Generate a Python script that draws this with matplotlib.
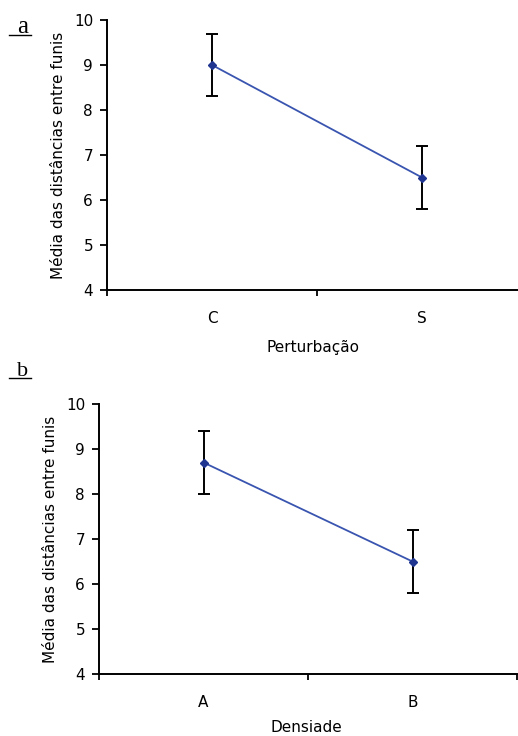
import matplotlib.pyplot as plt
from matplotlib.lines import Line2D

# dados
cat_a = ['C', 'S']
media_a = [9.0, 6.5]
erro_a = [0.7, 0.71]

cat_b = ['A', 'B']
media_b = [8.7, 6.5]
erro_b = [0.7, 0.71]

ylabel = 'Média das distâncias entre funis'
W, H = 518, 736

fig = plt.figure(figsize=(W / 100, H / 100), dpi=100)
plt.rcParams['font.family'] = ['DejaVu Sans']
fs = 11


def painel(rect, cats, medias, erros):
    ax = fig.add_axes(rect)
    xs = [0.5, 1.5]
    ax.errorbar(xs, medias, yerr=erros, fmt='none', ecolor='black',
                elinewidth=1.4, capsize=4, capthick=1.4, zorder=2)
    ax.plot(xs, medias, color='#3a55b0', lw=1.3, marker='D', ms=4,
            mfc='#1f3590', mec='#1f3590', zorder=3)
    ax.set_xlim(0, 2)
    ax.set_ylim(4, 10)
    ax.set_yticks(range(4, 11))
    ax.set_xticks([0, 1, 2])
    ax.set_xticklabels([])
    ax.set_xticks(xs, minor=True)
    ax.set_xticklabels(cats, minor=True)
    ax.tick_params(axis='x', which='minor', length=0, pad=15, labelsize=fs)
    ax.tick_params(axis='x', which='major', length=4, width=1.3)
    ax.tick_params(axis='y', length=5, width=1.3, labelsize=fs, pad=5)
    for s in ['top', 'right']:
        ax.spines[s].set_visible(False)
    for s in ['left', 'bottom']:
        ax.spines[s].set_linewidth(1.4)
    ax.set_ylabel(ylabel, fontsize=fs, labelpad=6)
    return ax


ax_a = painel([107 / W, 1 - 290 / H, 420 / W, 270 / H], cat_a, media_a, erro_a)
ax_b = painel([99 / W, 1 - 674 / H, 418 / W, 270 / H], cat_b, media_b, erro_b)

# rótulos dos eixos x (posição manual, como no original)
fig.text(313 / W, 1 - 347 / H, 'Perturbação', ha='center', va='center', fontsize=fs)
fig.text(306 / W, 1 - 727 / H, 'Densiade', ha='center', va='center', fontsize=fs)

# letras dos painéis, sublinhadas
for lbl, y, tam in [('a', 33, 18), ('b', 376, 16)]:
    fig.text(23 / W, 1 - y / H, lbl, family='Liberation Serif', fontsize=tam,
             ha='center', va='baseline')
    fig.add_artist(Line2D([9 / W, 31 / W], [1 - (y + 2) / H, 1 - (y + 2) / H],
                          color='black', lw=1.0))

fig.savefig('out.png', dpi=100)
